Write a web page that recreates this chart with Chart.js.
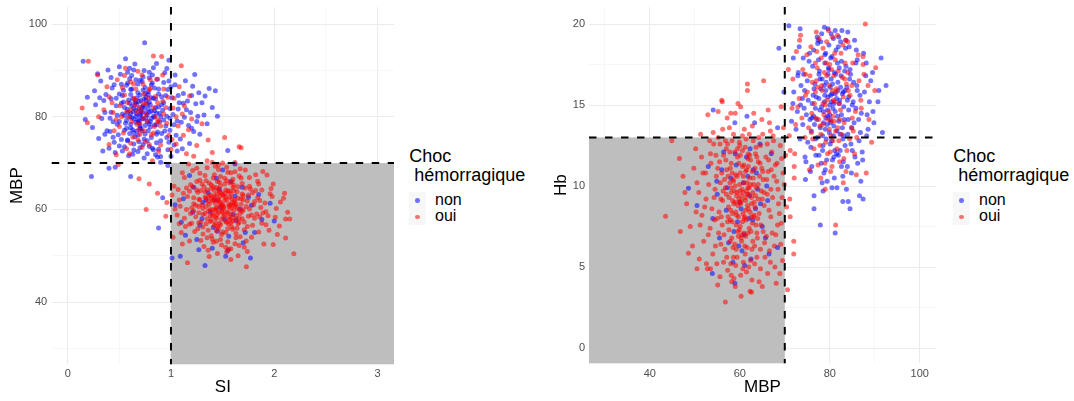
<!DOCTYPE html>
<html>
<head>
<meta charset="utf-8">
<script src="https://cdn.jsdelivr.net/npm/chart.js@4"></script>
<style>
  body { margin: 0; background: #fff; }
  #wrap { position: relative; width: 1074px; height: 401px; font-family: "Liberation Sans", Arial, sans-serif; }
  canvas { position: absolute; top: 0; }
  .lg-title { position: absolute; font-size: 18px; line-height: 19px; white-space: pre; color: #000; }
  .lg-key { position: absolute; width: 17px; height: 16.5px; background: #f7f7f7; }
  .lg-key span { position: absolute; left: 6.2px; top: 6px; width: 4.6px; height: 4.6px; border-radius: 50%; }
  .lg-label { position: absolute; font-size: 16px; line-height: 16px; color: #000; }
</style>
</head>
<body>
<div id="wrap">
  <canvas id="left" width="400" height="401" style="left:0"></canvas>
  <canvas id="right" width="400" height="401" style="left:540px"></canvas>
  <div id="legend-left"></div>
  <div id="legend-right"></div>
</div>
<script>
// [SI, MBP]
const leftNon = [
  [0.15,92],[0.17,79.4],[0.19,84.2],[0.29,89.3],[0.23,67.1],[0.40,68.9],[0.46,69.1],[0.745,96],[0.98,92.2],[1.23,89.1],
  [1.37,86.1],[1.43,85.6],[1.45,80.1],[1.55,72.7],[1.40,82],[1.33,84.5],[1.30,83],[1.25,79],[1.20,77.5],[1.28,76.2],[1.35,78.5],
  [0.72,81],[0.65,83],[0.80,79],[0.70,78],[0.60,80],[0.85,82],[0.75,85],[0.68,76],[0.90,80],[0.55,82],
  [0.78,77],[0.62,86],[0.83,84],[0.73,74],[0.95,78],[0.50,79],[0.58,75],[0.88,86],[0.66,88],[0.79,81],
  [0.71,83.5],[0.64,79.5],[0.81,75.5],[0.93,83],[0.47,84],[0.57,77.5],[0.76,79.8],[0.69,81.7],[0.84,78.2],[0.61,84.8],
  [1.02,80.5],[1.05,76],[1.08,83],[0.98,74.5],[1.00,86.5],[0.42,81],[0.38,77],[0.35,83.5],[0.45,74.5],[0.52,87],
  [0.74,90],[0.82,89],[0.60,90.5],[0.68,72.5],[0.77,72],[0.88,73],[0.55,73.5],[0.96,75.5],[1.10,78.8],[1.12,85],
  [0.70,80.2],[0.73,82.4],[0.67,84.1],[0.79,83.2],[0.86,80.8],[0.63,77.2],[0.75,76.3],[0.58,81.6],[0.92,81.4],[0.81,86.9],
  [0.66,78.8],[0.72,87.6],[0.54,85.7],[0.87,76.7],[0.49,76.1],[0.97,85.9],[0.77,74.8],[0.64,74.1],[0.85,71.8],[0.59,71.6],
  [1.15,81.5],[1.18,74.2],[1.06,72.6],[1.14,87.8],[0.94,89.5],[0.43,86.2],[0.33,79.6],[0.30,75.3],[0.27,82.6],[0.40,73.2],
  [0.69,79.1],[0.76,80.9],[0.71,77.4],[0.83,80.1],[0.62,82.3],[0.78,84.8],[0.89,78.9],[0.57,79.2],[0.74,83.9],[0.66,81.4],
  [1.00,71.5],[0.90,70.2],[0.97,69.5],[1.24,82.8],[1.20,84.6],[1.04,89],[0.86,91.5],[0.56,92.5],[0.60,88.2],[0.50,90.8],
  [0.80,82.6],[0.68,85.2],[0.72,79.7],[0.61,78.4],[0.91,84.3],[0.53,80.6],[0.87,88.1],[0.64,76.6],[0.79,73.6],[0.99,77.1],
  [0.71,80.6],[0.74,81.9],[0.68,79.3],[0.77,82.7],[0.63,81.1],[0.81,79.6],[0.69,83.3],[0.75,78.1],[0.66,80.1],[0.84,81.3],
  [0.59,83.6],[0.72,76.9],[0.78,85.4],[0.65,75.7],[0.88,82.1],[0.56,78.6],[0.93,79.3],[0.61,85.9],[0.70,73.3],[0.80,77.8],
  [0.52,82.9],[0.95,84.6],[0.48,80.3],[0.86,74.4],[0.73,88.6],[0.64,72.8],[0.99,81.8],[0.44,78.9],[0.82,87.3],[0.57,86.8],
  [0.76,83.5],[0.67,82.6],[0.79,78.5],[0.62,79.8],[0.85,83.9],[0.70,84.7],[0.74,75.2],[0.60,76.4],[0.89,80.7],[0.54,83.2],
  [1.03,78.3],[1.07,81.7],[0.97,72.9],[1.01,84.1],[0.41,79.7],[0.37,84.8],[0.46,72.3],[0.51,89.2],[0.83,90.6],[0.65,91.4],
  [0.72,82.1],[0.69,78.7],[0.77,80.4],[0.63,83.9],[0.81,81.2],[0.58,80.9],[0.86,78.3],[0.67,76.9],[0.75,86.3],[0.91,76.4],
  [0.55,77.1],[0.79,89.6],[0.68,87.1],[0.93,87.4],[0.47,82.4],[1.09,75.2],[1.13,79.9],[1.16,83.4],[0.36,76.2],[0.32,87.7],
  [0.71,81.3],[0.73,79.5],[0.66,83.2],[0.78,81.8],[0.61,80.7],[0.84,79.9],[0.70,77.6],[0.76,84.2],[0.64,81.9],[0.88,84.9],
  [0.58,74.8],[0.82,73.2],[0.53,84.6],[0.96,80.1],[0.44,75.6],[1.04,86.9],[0.62,88.9],[0.90,71.4],[0.74,71.1],[0.50,73.7],
  [1.19,80.9],[1.22,76.8],[1.27,85.2],[1.11,73.1],[1.32,80.4],[0.39,90.1],[0.26,85.6],[0.24,77.7],[0.34,72.6],[0.42,88.5],
  [0.45,86.9],[0.52,75.1],[0.98,87.7],[1.06,79.1],[0.36,80.9],[0.58,89.6],[0.90,74.8],[1.12,82.9],[0.41,76.8],[0.63,71.9],
  [0.96,90.4],[0.31,84.1],[1.17,78.1],[0.50,84.9],[0.84,86.2],[0.55,80.2],[0.87,71.3],[1.03,73.9],[0.48,78.4],[1.21,86.6],
  [0.69,74.6],[0.79,88.4],[0.58,87.3],[0.94,76.9],[0.42,83.9],[1.07,84.6],[0.64,90.1],[0.99,79.7],[0.53,72.6],[1.26,80.1],
  [0.81,84.1],[0.61,77.6],[0.73,85.8],[0.86,76.2],[0.67,80.6],[0.77,78.9],[0.60,82.9],[0.91,82.6],[0.70,87.9],[0.83,72.9],
  [1.01,49.5],[1.09,49.9],[1.33,47.9],[0.88,56.0],[0.92,62.5],[0.61,67.1],[1.34,62],[1.43,62],[1.40,51.6],[1.55,51.1],
  [1.77,49.5],[1.72,55],[1.81,55],[1.96,61.3],[2.0,57.5],[1.58,66],[1.50,68.5],[1.62,69.8],[1.30,58],[1.45,55.3],
  [1.25,53.5],[1.67,60.1],[1.22,64.8],[1.10,57.2],[1.38,59.5],[1.85,63.2],[1.52,57.8],[1.04,61],[1.28,56.6],[1.70,52.8],
  [1.47,64.3],[1.14,54.4],[1.60,58.9],[1.75,62.6],
  [1.48,60.4],[1.36,63.6],[1.63,57.6],[1.21,59.4],[1.78,60.9],[1.44,66.7],[1.56,54.2],[1.31,61.5],[1.69,64.8],[1.12,62.3],
  [1.88,57.8],[1.53,49.9],[1.41,56.1],[1.62,62.9],[1.18,67.3],[1.27,51.3]
];
const leftOui = [
  [0.2,92],[0.83,93.1],[0.91,93],[1.10,91],[1.36,75],[1.52,75.5],[1.66,73.5],[1.68,73.3],[1.40,72.3],[0.49,69.7],
  [0.14,81.9],[0.19,78.7],[0.29,89],
  [0.70,82],[0.62,79],[0.78,84],[0.85,80],[0.66,86],[0.74,77],[0.58,83],[0.90,78],[0.52,80],[0.80,88],
  [0.68,75],[0.95,82],[0.45,77],[0.72,89],[1.05,80],[1.12,76],[1.18,84.5],[1.25,73.8],[1.00,73],[0.88,72.5],
  [0.60,72],[0.40,74],[0.35,81.5],[0.48,88],[0.56,90.5],[0.64,84],[0.76,80.5],[0.83,76.5],[0.93,86],[0.70,78.5],
  [1.08,86.5],[1.20,79.5],[1.30,78.5],[1.15,72],[0.82,70.5],[0.30,80],[0.38,86.5],[0.47,71.8],[0.73,87],[0.87,83],
  [0.98,76],[0.61,87.5],[0.67,81],[0.79,74],[1.03,84],[0.54,76.5],[0.92,89],[0.43,83],
  [0.71,81.2],[0.77,79.1],[0.65,82.5],[0.83,81.9],[0.69,77.2],[0.74,84.9],[0.59,79.9],[0.88,79.2],[0.63,75.6],[0.80,86.1],
  [0.55,84.7],[0.93,80.6],[0.72,73.4],[0.97,84.2],[0.50,77.9],[1.07,78],[0.86,88.1],[0.44,80.9],[1.13,82.3],[0.68,89.8],
  [0.76,82.8],[0.61,81.4],[0.84,77.9],[0.73,79.7],[1.01,75.1],[0.57,73.1],[0.90,73.9],[1.17,77.2],[0.40,84.3],[0.53,86.3],
  [0.66,83.6],[0.81,76.1],[0.57,81.1],[0.92,83.4],[0.75,74.6],[0.64,87.1],[0.87,78.9],[0.51,82.4],[1.02,81.9],[0.70,76.2],
  [0.79,85.9],[0.61,74.3],[0.96,78.6],[0.47,79.4],[1.11,80.6],[0.73,82.9],[0.85,84.4],[0.67,78.4],[0.55,88.9],[1.05,74.1],
  [2.19,50.4],[2.11,53.8],[2.11,57.9],[2.15,57.9],[2.09,62.4],[2.1,63.5],[1.99,65.5],[1.93,67.4],[1.73,47.6],[1.16,48.5],
  [0.76,60],[0.87,63.5],[0.79,65.5],[0.69,66.6],[0.96,61.5],[1.17,69.8],[1.22,71.5],[1.03,65],[0.95,58.5],[1.02,54],
  [1.50,61],[1.42,63],[1.58,59],[1.47,57],[1.55,64],[1.38,60],[1.62,62],[1.45,66],[1.53,55],[1.35,58],
  [1.66,60],[1.40,61.8],[1.57,62.7],[1.49,59.6],[1.44,60.4],[1.60,57.5],[1.52,65.5],[1.33,63.8],[1.70,63],[1.30,61],
  [1.48,53.5],[1.63,54.8],[1.36,55.5],[1.75,58.5],[1.27,59.3],[1.55,68],[1.42,67.5],[1.68,66.8],[1.22,62.5],[1.80,61],
  [1.46,62.2],[1.51,60.3],[1.39,64.5],[1.59,61.4],[1.43,58.3],[1.65,64.9],[1.54,57.2],[1.37,62.9],[1.61,59.8],[1.49,63.6],
  [1.20,57],[1.25,66],[1.15,60],[1.85,65.5],[1.88,57],[1.78,54],[1.12,63.5],[1.10,55],[1.32,52],[1.58,51.5],
  [1.45,50.5],[1.65,50],[1.72,68.5],[1.35,69],[1.50,70],[1.28,67.8],[1.82,67.5],[1.92,59.5],[1.95,55.5],[1.90,52.5],
  [1.06,58.8],[1.08,62],[1.18,53.2],[1.40,53.6],[1.55,53],[1.74,56.3],[1.69,58],[1.26,55.8],[1.34,66.2],[1.60,66.5],
  [1.47,61.7],[1.53,62.6],[1.41,59.1],[1.56,60.5],[1.44,64.7],[1.63,61.2],[1.38,57.4],[1.51,58.4],[1.48,65.1],[1.66,57.2],
  [1.31,60.2],[1.73,60.6],[1.57,63.9],[1.29,64.1],[1.79,63.6],[1.36,51.2],[1.62,52.6],[1.21,68.4],[1.86,61.9],[1.98,62.8],
  [1.13,66.9],[1.46,55.9],[1.59,56.2],[1.76,65],[1.24,60.9],[1.42,56.6],[1.54,59.5],[1.68,62.3],[1.39,62.4],[1.50,63.2],
  [1.83,59],[1.64,55.9],[1.11,52.5],[1.19,65.3],[1.43,69.3],[1.71,51.8],[1.88,64.2],[1.31,54.7],[2.02,60.2],[2.05,56.4],
  [1.45,58.9],[1.52,66.7],[1.37,65.7],[1.61,64.1],[1.56,56.8],[1.49,52.3],[1.34,56.9],[1.67,59.1],[1.27,62.2],[1.58,67.9],
  [1.51,60.7],[1.47,62.8],[1.55,59.2],[1.43,61.3],[1.58,63.4],[1.40,59.9],[1.62,60.8],[1.49,57.9],[1.53,64.2],[1.36,61.7],
  [1.65,62.4],[1.45,56.3],[1.57,65.7],[1.33,59.1],[1.69,59.6],[1.41,64.9],[1.60,55.7],[1.28,62.1],[1.74,61.8],[1.48,67.1],
  [1.52,61.9],[1.46,59.4],[1.56,61.1],[1.42,62.6],[1.59,58.2],[1.39,57.6],[1.64,63.8],[1.50,55.1],[1.35,64.2],[1.71,57.3],
  [1.24,58.4],[1.77,64.4],[1.31,56.2],[1.67,54.1],[1.44,53.1],[1.54,69.1],[1.20,60.3],[1.81,58.1],[1.26,63.7],[1.84,62.5],
  [1.50,60.1],[1.48,61.4],[1.54,62.1],[1.44,59.8],[1.61,61.6],[1.38,63.1],[1.57,57.8],[1.46,64.4],[1.63,58.7],[1.34,60.6],
  [1.72,64.6],[1.29,57.3],[1.53,51.8],[1.41,66.8],[1.66,67.2],[1.16,62.8],[1.87,60.4],[1.23,55.2],[1.79,56.6],[1.13,58.1],
  [1.49,60.9],[1.52,58.8],[1.45,63.3],[1.58,60.2],[1.43,57.1],[1.60,64.7],[1.37,61.1],[1.65,56.9],[1.47,65.9],[1.55,55.8],
  [1.32,64.9],[1.70,59.9],[1.27,60.6],[1.75,63.1],[1.39,54.3],[1.62,68.1],[1.21,64.9],[1.91,61.4],[1.09,60.7],[1.94,58.6],
  [1.51,62.9],[1.44,58.1],[1.57,60.9],[1.42,64.1],[1.63,57.9],[1.36,59.6],[1.59,62.3],[1.48,56.7],[1.68,61.1],[1.33,62.7],
  [1.76,60.1],[1.30,65.5],[1.54,50.8],[1.46,68.6],[1.85,55.1],[1.18,56.8],[1.73,53.2],[1.25,68.9],[1.97,64.5],[1.07,64.3],
  [1.50,59.3],[1.53,63.5],[1.47,60.6],[1.56,58.3],[1.41,62.1],[1.61,65.2],[1.38,58.6],[1.64,60.4],[1.45,61.9],[1.58,57.1],
  [1.35,53.9],[1.69,65.6],[1.28,66.3],[1.82,64.1],[1.22,59.7],[1.89,59.2],[1.40,70.2],[1.66,52.2],[2.01,58.3],[1.14,56.3],
  [1.25,64.2],[1.78,58.8],[1.33,67.3],[1.71,55.6],[1.19,59.1],[1.84,66.1],[1.41,52.9],[1.62,70.1],[1.15,64.6],[1.92,56.7],
  [1.29,53.3],[1.67,68.8],[1.08,56.9],[1.96,63.4],[1.37,49.8],[1.56,51.4],[1.22,61.2],[1.81,61.7],[1.46,69.6],[1.74,50.9],
  [1.31,58.9],[1.70,62.1],[1.39,65.3],[1.63,53.9],[1.18,63.9],[1.86,58.4],[1.49,54.6],[1.54,66.2],[1.27,57.1],[1.76,66.9],
  [1.43,60.1],[1.60,60.9],[1.34,62.4],[1.66,58.1],[1.47,63.8],[1.53,57.4],[1.40,58.7],[1.59,65.9],[1.44,55.4],[1.69,63.3],
  [2.06,61.6],[2.13,59.4],[1.04,60.1],[1.01,63.1],[2.03,54.6],[1.89,68.2],[1.11,67.9],[1.99,52.4],[1.35,70.5],[1.58,49.2]
];

// [MBP, Hb]
const rightNon = [
  [70.9,19.9],[68.7,18.5],[73.4,19.7],[78.8,19.8],[79.6,19.7],[91.4,17.9],[92.5,16.2],[90.9,15.9],[90.7,15.2],[91.7,13.3],
  [89.8,13.9],[86.9,10.3],[87.4,9.2],[86.6,9.4],[82.9,9.05],[84.1,9.05],[84.5,8.6],[81.2,7.1],[77.9,7.6],[76.5,9.4],
  [76.5,8.6],[78.5,9.7],[80.5,9.9],[74.6,10.4],[69.8,15.8],
  [80,15],[78,16],[82,14],[79,13.5],[81,17],[77,15.5],[83,15.8],[76,14.2],[84,13.2],[80.5,18],
  [78.5,12.5],[82.5,16.8],[75,16.5],[85,15],[79.5,14.3],[81.5,12],[77.5,17.8],[83.5,18.5],[74,13.8],[86,16.2],
  [80.2,15.6],[79.2,16.4],[81.2,14.6],[78.2,14.9],[82.2,15.3],[80.8,13.1],[79.8,17.2],[77.2,13],[83.2,14.1],[76.5,16],
  [84.5,17.2],[75.5,18.2],[73.5,15],[73,17],[87,14.5],[88,16.8],[86.5,12.8],[85.5,19],[82,19.2],[78,18.9],
  [72.5,13.5],[74.5,11.8],[76,11.2],[79,11],[81,10.5],[83,11.5],[85,12.2],[88.5,13.5],[87.5,18.2],[84,19.5],
  [80.6,16.3],[78.8,15.2],[81.8,15.9],[79.4,13.8],[82.8,13.6],[77.8,16.6],[80.1,14.1],[83.8,16.1],[76.8,14.8],[81.4,18.4],
  [74.8,14.4],[72,15.8],[71.5,14],[73.2,18.6],[75.8,12.4],[78.3,10.2],[80.9,11.8],[84.8,10.8],[86.2,11.4],[88.8,15.2],
  [89.5,17],[85.8,17.6],[83.4,12.5],[77.4,19],[80.3,19.4],[82.6,17.7],[79.6,16.9],[81.6,13.4],[78.6,13.9],[80.4,12.8],
  [84.2,14.7],[76.2,17.4],[75.2,15.3],[85.4,13.9],[79.1,18.2],[82.3,12.2],[77.6,11.9],[83.6,19],[87.2,12.1],[74.2,16.9],
  [80.4,15.2],[79.1,15.9],[81.7,14.3],[78.6,14.6],[82.4,16.1],[80.9,13.7],[79.7,17.3],[83.1,14.9],[77.6,15.4],[81.3,16.9],
  [80.1,12.6],[84.2,15.5],[76.7,16.3],[82.9,12.9],[78.9,18.1],[85.3,16.4],[75.9,13.4],[81.9,18.6],[79.3,11.6],[86.4,14.1],
  [80.7,14.8],[78.3,16.6],[82.1,15.1],[79.9,13.3],[83.6,17.4],[77.1,14.1],[81.1,12.2],[84.9,13.6],[76.3,15.6],[80.2,17.9],
  [74.3,14.8],[87.7,15.8],[73.6,16.2],[82.7,19.6],[78.1,11.4],[85.9,18.4],[75.1,12.7],[88.3,14.4],[77.3,18.8],[83.9,11.2],
  [80.5,15.7],[79.5,14.7],[81.5,15.4],[78.8,16.2],[82.6,14.4],[80.3,16.6],[79.2,12.9],[83.4,15.9],[77.9,13.6],[81.7,17.6],
  [76.1,15.1],[84.6,16.9],[75.4,17.7],[86.8,13.3],[78.7,10.8],[82.9,10.6],[72.8,14.6],[89.1,16.5],[80.8,19.1],[74.7,11.5],
  [80.0,14.4],[81.2,15.7],[79.6,15.5],[82.3,13.2],[78.4,13.1],[83.3,17.1],[77.7,17.1],[84.1,14.1],[76.6,13.8],[81.9,11.9],
  [85.2,15.2],[73.9,15.4],[86.1,17.8],[79.8,18.7],[82.4,18.9],[76.9,11.9],[88.2,13.1],[71.8,15.1],[84.7,12.6],[78.2,19.4],
  [74.1,17.9],[86.7,15.6],[75.7,10.9],[85.6,11.8],[72.9,16.8],[88.1,17.6],[77.2,19.2],[84.3,18.6],[79.4,10.3],[81.6,9.9],
  [73.4,12.9],[89.6,14.6],[76.4,18.4],[87.3,11.6],[71.9,17.9],[83.7,9.8],[78.4,12.2],[82.1,17.3],[80.9,15.1],[79.1,14.2],
  [81.8,16.4],[77.8,14.7],[83.1,13.1],[78.9,17.6],[80.2,13.9],[82.8,15.7],[76.4,14.3],[84.4,16.6],[80.6,11.6],[77.6,16.9],
  [85.8,14.8],[75.6,14.1],[81.2,19.6],[78.9,15.6],[83.9,15.3],[76.8,12.9],[86.1,15.9],[74.4,15.9],[82.6,11.2],[80.1,16.1],
  [48.6,9.86],[58.9,4.0],[53.9,4.6],[54.1,14.7],[58.9,13.9],[61.6,14.3],[63.3,13.9],[68.4,13.6],[68.4,6.2],
  [60,9],[62,8],[58,10.5],[61,7],[63,11],[57,8.5],[64,9.8],[59,12],[60.5,6],[62.5,5.5],
  [55,9.5],[66,10],[65,7.5],[57.5,6.5],[61.5,11.8],[56,11],[63.5,8.6],[59.5,7.8],[67,12],[54,8],
  [58.5,5.3],[64.5,12.6],[60.8,10.2],[62.2,9.4],[50.5,8.8],[53,11.2],[66.5,5.8],[55.5,6.8],
  [60.3,8.6],[61.8,10.6],[58.7,7.2],[62.9,7.9],[59.2,11.3],[64.6,8.9],[57.2,9.9],[61.1,5.1],[56.4,12.1],[63.7,10.8],
  [66.2,9.1],[59.8,6.3],[54.9,10.3],[62.3,12.3],[65.7,6.8]
];
const rightOui = [
  [43.5,8.13],[44.9,12.8],[47.4,10.6],[48.6,5.85],[56.8,2.84],[62.3,3.5],[62.6,3.45],[70.6,3.6],[68.1,4.0],[58.2,4.1],
  [52.8,4.9],[53.5,4.9],[72.0,5.8],[72,6.6],[71.2,8.1],[71.1,9.2],[72.1,10.5],[72.1,11.2],[71.2,12.2],[61.7,16.3],
  [61.7,15.9],[65.3,16.5],[56.0,15.3],[56.1,15.2],[52.9,14.4],[58,14.5],[59,14.5],[49,7.5],[48.2,8.9],[49.5,6.3],
  [51,5.5],[50.5,4.9],
  [60,9],[61,8],[59,10],[62,9.5],[58,8.5],[63,10.5],[60.5,7],[61.5,11],[57,9.5],[64,8],
  [59.5,11.8],[62.5,7.2],[56,10.8],[65,9.2],[58.5,6.2],[61.2,5.8],[63.5,12],[55,8],[66,10.4],[60,12.5],
  [60.3,9.4],[59.6,8.8],[61.8,9.9],[58.8,9.7],[62.3,8.4],[60.8,10.6],[59.2,7.6],[61.4,7.9],[57.8,10.2],[63.2,9],
  [57,12.3],[64.5,11.4],[55.5,11.5],[66.5,8.5],[54.5,9.8],[67,11],[56.5,7],[65.5,6.5],[58,5.2],[62,5],
  [60.2,4.5],[63.8,5.6],[57.3,4.8],[66.2,4.6],[68,7],[68.5,9.8],[69,12.5],[67.5,12.8],[53.5,12],[52.5,9.2],
  [53,7],[54,5.8],[55.2,13],[58.6,13.2],[61,13.5],[64.2,13],[66.8,13.4],[69.5,5.4],[51.5,11.8],[50.5,10.2],
  [59.8,9.2],[60.7,8.3],[61.6,10.2],[58.4,9.1],[62.8,10.9],[59.1,10.7],[60.4,6.6],[63.6,7.6],[57.4,8.1],[64.8,9.7],
  [56.2,9.1],[65.8,11.8],[61.9,12],[58.1,11.4],[62.7,6.1],[59.4,5.6],[55.8,6.4],[67.3,9.3],[56.8,12.8],[63,12.8],
  [60.9,11.3],[59.3,8.2],[62.1,7.4],[57.6,7.3],[64.1,10.1],[60.1,10.8],[58.3,7.8],[61.3,9.1],[63.4,8.7],[59.7,6.9],
  [54.8,10.6],[65.2,7.2],[66.6,6],[55.6,4.4],[68.8,8.3],[53.8,8.6],[52,6.6],[69.6,10.8],[67.8,5],[54.2,12.6],
  [61.1,6.3],[58.9,12.1],[62.4,11.6],[57.1,11],[60.6,13.1],[63.9,6.8],[56.4,5.3],[64.6,4.9],[59,3.8],[65,3.8],
  [60,9.7],[61.7,8.8],[58.6,10.3],[62.6,9.3],[59.9,7.3],
  [60.4,9.1],[61.3,8.5],[59.4,9.6],[62.1,9.9],[58.7,8.9],[63.1,10.1],[60.1,7.5],[61.9,11.2],[57.6,9.3],[64.3,8.3],
  [59.8,11.4],[62.8,7.7],[56.6,10.4],[65.4,9.6],[58.2,6.8],[61.6,6.2],[63.8,11.8],[55.4,8.4],[66.3,10.9],[60.6,12.2],
  [60.5,9.8],[59.1,8.4],[61.7,9.5],[58.1,9.9],[62.6,8.9],[60.9,10.2],[59.6,7.2],[61.1,8.1],[57.9,11.1],[63.5,9.4],
  [57.3,12.6],[64.9,11.1],[55.1,11.1],[66.9,8.1],[54.3,9.3],[67.6,10.6],[56.1,7.6],[65.9,6.9],[58.6,5.6],[62.4,5.4],
  [60.7,4.9],[63.3,6.3],[57.1,5.6],[66.8,5.3],[68.4,7.6],[68.2,10.3],[69.3,11.7],[67.1,12.1],[53.6,11.4],[52.2,8.7],
  [53.4,7.4],[54.6,6.3],[55.6,12.6],[58.3,12.8],[61.4,12.9],[64.6,12.5],[67.4,13.1],[69.1,6.4],[51.8,10.8],[50.9,9.6],
  [60.2,8.9],[61.2,9.3],[59.3,9.4],[62.2,10.5],[58.4,8.3],[63.2,8.2],[60.3,6.8],[61.8,11.7],[57.4,10.6],[64.1,9.2],
  [59.5,12.3],[62.9,6.6],[56.3,9.7],[65.2,10.4],[58.9,6.4],[61.5,4.7],[63.6,12.4],[55.3,7.1],[66.4,11.6],[60.1,11.9],
  [60.8,9.6],[59.7,8.1],[61.9,8.6],[58.5,10.4],[62.4,10.1],[60.6,7.8],[59.2,6.1],[61.3,10.9],[57.9,7.9],[63.7,9.9],
  [56.9,11.6],[64.7,7.6],[55.8,9.2],[66.1,9.5],[54.7,11.9],[67.2,7.1],[56.7,6.1],[65.6,5.6],[58.1,4.5],[62.7,4.2],
  [60.0,10.1],[61.5,9.7],[59.0,9.0],[62.5,8.1],[58.3,10.8],[63.4,11.1],[60.9,7.1],[61.2,12.4],[57.5,8.7],[64.4,10.6],
  [53.1,10.1],[68.6,8.9],[52.6,5.2],[69.4,9.3],[51.2,7.6],[67.9,11.3],[54.1,13.3],[65.1,13.2],[57.7,13.6],[62.8,13.7],
  [63.1,14.5],[60.2,14.9],[57.2,14.2],[64.9,14.1],[55.2,14.6],[66.6,13.9],[59.6,15.1],[50.2,12.3],[47.8,9.6],[46.6,11.7],
  [52.4,10.8],[68.3,11.4],[54.9,5.2],[66.1,12.6],[51.6,8.2],[69.2,7.7],[56.2,13.5],[64.3,4.1],[53.3,12.8],[67.7,6.3],
  [55.7,10.2],[65.4,8.8],[57.8,12.1],[63.3,5.2],[54.4,7.9],[66.9,9.8],[58.7,4.3],[62.1,13.2],[50.3,8.4],[69.9,10.1],
  [56.8,9.9],[64.1,11.5],[57.3,7.8],[63.1,8.1],[59.9,12.7],[61.3,6.9],[55.9,8.1],[65.1,10.9],[58.1,9.6],[62.9,9.6],
  [59.1,5.1],[60.8,5.3],[57.9,6.6],[63.8,7.1],[61.8,7.1],[59.4,10.6],[60.6,11.2],[56.4,11.9],[64.6,6.1],[62.2,11.9],
  [46.8,7.2],[49.8,11.1],[51.3,13.2],[69.7,13.6],[66.3,14.7],[68.9,4.6],[55.1,3.9],[60.3,3.2],[70.4,8.7],[70.2,11.9],
  [73.5,19.3],[73.3,19],[87.9,20],[89.3,12.7],[88.1,10.8],[85.9,10.7],[90,15.9],[90.2,17.3],[87.4,17.5],[87.4,18],
  [81.3,7.6],[72.2,12],[71.6,14.8],[71.8,16.6],[70.8,17.2],[72.6,18.3],[71,13.1],[69.2,14.9],
  [79,15],[81,14],[77,16.5],[83,15.5],[78,13.2],[80,17.5],[82,12.8],[76,14.5],[84,17],[79.5,12],
  [81.5,16],[75,15.8],[85,14.2],[78.5,18.5],[80.5,11.2],[83.5,19],[76.5,12.3],[86,13],[74,17.2],[82.5,18.2],
  [79.8,14.6],[80.8,15.3],[78.3,15.9],[81.8,13.6],[77.5,14.1],[82.8,16.7],[79.3,16.8],[80.2,13.1],[76.8,17.6],[84.5,15.6],
  [74.5,13],[73.8,14.2],[75.5,11],[78,10.5],[83,10.2],[85.5,12],[86.5,16.5],[84,18.9],[80.6,19.2],[77,19.5],
  [75.8,18.6],[82.2,11.5],[79,9.8],[87,14.8],[88.5,16.2],[77.8,12.5],[81.2,17.8],[83.2,13.9],[78.8,17],[80.3,14],
  [79.4,15.3],[80.7,14.3],[78.2,16.2],[82.1,15.1],[77.8,13.7],[80.9,16.8],[81.6,12.3],[76.6,15.1],[83.7,16.3],[79.1,12.7],
  [81.1,18.2],[75.6,16.8],[84.8,13.6],[78.1,17.9],[80.2,10.9],[82.9,18.7],[76.2,12.9],[85.7,14.6],[74.6,15.6],[83.1,11.7],
  [79.6,14.1],[81.4,15.8],[78.7,14.4],[82.6,13.2],[77.3,16.1],[80.4,17.2],[79.9,13.5],[84.1,15.9],[76.9,14.2],[81.9,17.1],
  [73.2,15.4],[86.9,15.3],[74.9,18.1],[85.1,17.6],[77.4,11.3],[83.6,10.9],[72.4,13.8],[88.7,14.1],[79.7,19.6],[75.3,13.6],
  [80.6,15.9],[78.5,15.1],[82.4,14.7],[79.2,17.6],[81.3,13.4],[77.1,18.3],[84.4,12.9],[80.1,12.1],[76.1,16.4],[83.3,16.6],
  [74.6,16.9],[85.2,13.4],[77.6,19.1],[83.8,12.2],[72.9,14.9],[87.6,16.9],[78.9,11.4],[81.7,19.3],[75.9,13.3],[86.3,18.1],
  [79.9,16.2],[81.1,15.2],[78.4,13.8],[83.4,17.6],[76.8,15.8],[82.2,14.1],[80.7,12.8],[77.2,17.3],[84.9,16.2],[79.3,18.9]
];

const leftXTicks = [0, 0.5, 1, 1.5, 2, 2.5, 3];
const leftXLabels = [0, 1, 2, 3];
const leftYTicks = [30, 40, 50, 60, 70, 80, 90, 100];
const leftYLabels = [40, 60, 80, 100];
const rightXTicks = [30, 40, 50, 60, 70, 80, 90, 100];
const rightXLabels = [40, 60, 80, 100];
const rightYTicks = [0, 2.5, 5, 7.5, 10, 12.5, 15, 17.5, 20];
const rightYLabels = [0, 5, 10, 15, 20];

const groups = ['non', 'oui'];
const colors = ['rgba(0,0,255,0.55)', 'rgba(255,0,0,0.55)'];

const quadrant = {
  id: 'quadrant',
  beforeDatasetsDraw(chart, args, o) {
    const { ctx, scales: { x, y } } = chart;
    const l = x.getPixelForValue(o.x0), r = x.getPixelForValue(o.x1);
    const t = y.getPixelForValue(o.y1), b = y.getPixelForValue(o.y0);
    ctx.save();
    ctx.fillStyle = '#bebebe';
    ctx.fillRect(l, t, r - l, b - t);
    ctx.restore();
  },
  afterDatasetsDraw(chart, args, o) {
    const { ctx, chartArea: a, scales: { x, y } } = chart;
    const vx = x.getPixelForValue(o.vx), hy = y.getPixelForValue(o.hy);
    ctx.save();
    ctx.strokeStyle = '#000';
    ctx.lineWidth = 2;
    ctx.setLineDash([7.5, 8.5]);
    ctx.beginPath(); ctx.moveTo(vx, a.top); ctx.lineTo(vx, a.bottom); ctx.stroke();
    ctx.beginPath(); ctx.moveTo(a.left, hy); ctx.lineTo(a.right, hy); ctx.stroke();
    ctx.restore();
  }
};

function axis(c) {
  const major = v => c.labels.includes(v);
  return {
    type: 'linear',
    min: c.min, max: c.max,
    afterBuildTicks: s => { s.ticks = c.ticks.map(v => ({ value: v })); },
    afterFit: s => {
      if (c.width) s.width = c.width;
      if (c.height) s.height = c.height;
      s.paddingTop = s.paddingBottom = s.paddingLeft = s.paddingRight = 0;
    },
    ticks: {
      color: '#4d4d4d', padding: c.tickPad,
      font: { family: '"Liberation Sans", Arial, sans-serif', size: 11 },
      callback: v => major(v) ? String(v) : ''
    },
    grid: {
      drawTicks: false,
      color: ctx => ctx.tick && major(ctx.tick.value) ? '#ebebeb' : '#f2f2f2',
      lineWidth: ctx => ctx.tick && major(ctx.tick.value) ? 1 : 0.6
    },
    border: { display: false },
    title: {
      display: true, text: c.title, color: '#000', padding: c.titlePad,
      font: { family: '"Liberation Sans", Arial, sans-serif', size: 17 }
    }
  };
}

function makeChart(id, c) {
  new Chart(document.getElementById(id), {
    type: 'scatter',
    data: {
      datasets: [c.non, c.oui].map((pts, i) => ({
        label: groups[i],
        data: pts.map(([x, y]) => ({ x, y })),
        backgroundColor: colors[i],
        borderWidth: 0,
        pointRadius: 2.5,
        order: 2 - i
      }))
    },
    options: {
      responsive: false,
      animation: false,
      events: [],
      devicePixelRatio: 1,
      layout: { padding: { left: 0, right: c.padRight, top: 7, bottom: 0 } },
      plugins: { legend: { display: false }, tooltip: { enabled: false }, quadrant: c.quad },
      scales: { x: axis(c.x), y: axis(c.y) }
    },
    plugins: [quadrant]
  });
}

makeChart('left', {
  non: leftNon, oui: leftOui, padRight: 6,
  x: { min: -0.155, max: 3.16, ticks: leftXTicks, labels: leftXLabels, title: 'SI', height: 36.7, tickPad: 3, titlePad: { bottom: 3.3 } },
  y: { min: 26.55, max: 103.7, ticks: leftYTicks, labels: leftYLabels, title: 'MBP', width: 51.7, tickPad: 4.5, titlePad: { top: 7.3 } },
  quad: { x0: 1, x1: 3.16, y0: 26.55, y1: 70, vx: 1, hy: 70 }
});

makeChart('right', {
  non: rightNon, oui: rightOui, padRight: 2,
  x: { min: 26.5, max: 103.6, ticks: rightXTicks, labels: rightXLabels, title: 'MBP', height: 37.7, tickPad: 3.6, titlePad: { bottom: 3.3 } },
  y: { min: -0.94, max: 21.05, ticks: rightYTicks, labels: rightYLabels, title: 'Hb', width: 49, tickPad: 4, titlePad: { top: 10.8 } },
  quad: { x0: 26.5, x1: 70, y0: -0.94, y1: 13, vx: 70, hy: 13 }
});

function buildLegend(id, x0) {
  const el = document.getElementById(id);
  el.innerHTML = `
    <div class="lg-title" style="left:${x0}px; top:147.2px">Choc\n hémorragique</div>
    ${groups.map((g, i) => `
      <div class="lg-key" style="left:${x0}px; top:${192 + i * 16.5}px"><span style="background:${colors[i]}"></span></div>
      <div class="lg-label" style="left:${x0 + 25.7}px; top:${191.7 + i * 16.3}px">${g}</div>
    `).join('')}
  `;
}

buildLegend('legend-left', 409.3);
buildLegend('legend-right', 953.3);
</script>
</body>
</html>
